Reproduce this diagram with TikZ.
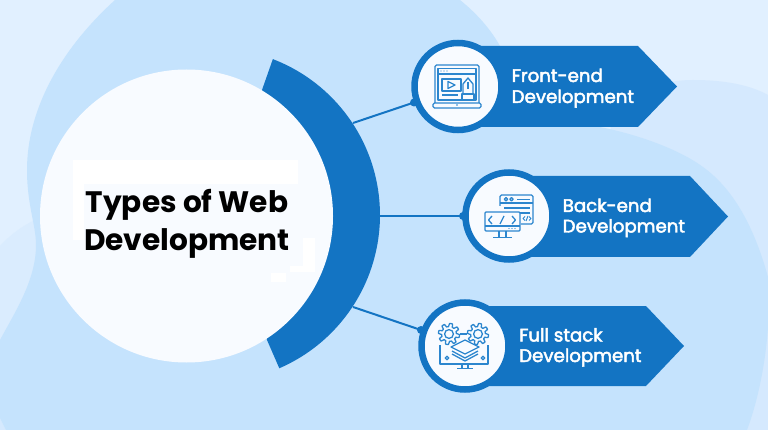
\documentclass[tikz,border=0pt]{standalone}
\usepackage{fontspec}
\setmainfont{Poppins}
\definecolor{bgtop}{HTML}{E1F0FF}
\definecolor{bgmid}{HTML}{D5E9FE}
\definecolor{bgside}{HTML}{DAECFE}
\definecolor{bgmain}{HTML}{C5E3FD}
\definecolor{brand}{HTML}{1374C3}
\definecolor{iconc}{HTML}{2C86CE}
\definecolor{disc}{HTML}{F8FBFF}
\newfontfamily\labfont[FakeBold=2.6]{Poppins}
\tikzset{
  ring/.style={circle,draw=brand,line width=6.5pt,fill=disc,minimum size=87pt,inner sep=0pt},
  knob/.style={circle,fill=brand,minimum size=8pt,inner sep=0pt},
  chip/.style={fill=brand,draw=none},
  link/.style={draw=brand,line width=2pt},
  lab/.style={text=white,anchor=base west,inner sep=0pt,font=\labfont\fontsize{18.2pt}{20pt}\selectfont},
  head/.style={text=black,anchor=base,inner sep=0pt,font=\fontsize{29.6pt}{32pt}\selectfont\bfseries},
  ico/.style={draw=iconc,line width=1.3pt,line join=round},
}
\newcommand{\mygear}[2]{%
  \draw[ico,fill=disc] plot[domain=0:360,samples=97] ({#1+(9+1.6*sign(sin(8*\x)))*cos(\x)},{#2+(9+1.6*sign(sin(8*\x)))*sin(\x)}) -- cycle;
  \draw[ico] (#1,#2) circle[radius=4.4];
}
\begin{document}
\begin{tikzpicture}[x=1pt,y=-1pt]
\useasboundingbox (0,0) rectangle (768,430);
\begin{scope}
\clip (0,0) rectangle (768,430);
\fill[bgtop] (0,0) rectangle (768,430);
% lighter lobes
\fill[bgside] (0,246) .. controls (10,235) and (22,226) .. (35,220) -- (40,300) -- (0,345) -- cycle;
\fill[bgmid] (610,120) .. controls (630,92) and (660,80) .. (693,80) .. controls (725,80) and (750,85) .. (768,95) -- (768,430) -- (640,430) -- cycle;
\fill[bgmid] (0,418) -- (6,430) -- (0,430) -- cycle;
% main blob
\fill[bgmain] (115,0) .. controls (60,50) and (27,110) .. (27,170)
  .. controls (27,205) and (36,225) .. (36,245)
  .. controls (36,280) and (15,312) .. (0,340)
  -- (0,418) -- (6,430) -- (747,430)
  .. controls (762,390) and (772,330) .. (768,277)
  .. controls (755,230) and (735,190) .. (703,167)
  .. controls (680,150) and (640,135) .. (600,127)
  .. controls (560,115) and (520,80) .. (500,46)
  .. controls (490,28) and (475,12) .. (460,0) -- cycle;
\end{scope}
% main arc band and disc
\coordinate (a1) at (353,123);
\coordinate (a2) at (378,216);
\coordinate (a3) at (353,307);
\fill[brand] plot[domain=-69:66.6,samples=80] ({213+167*cos(\x)},{215+167*sin(\x)}) -- (267,340) -- (262,90) -- cycle;
\node[circle,fill=disc,minimum size=293pt,inner sep=0pt] (hub) at (186.5,216) {};
% faint white patches of the picture
\fill[white] (73,160) -- (298,160) -- (298,184) -- (84,184) -- (84,240) -- (73,240) -- cycle;
\fill[white] (303,238) -- (315,238) -- (315,272) -- (290,272) -- (290,266) -- (303,266) -- cycle;
\fill[white] (271,273) rectangle (286,282);
\node[head] (title1) at (187,213) {Types of Web};
\node[head] (title2) at (187,251) {Development};
% chips
\fill[chip] (458,46) -- (638,46) -- (677,86.5) -- (638,127) -- (458,127) -- cycle;
\fill[chip] (509,176) -- (690,176) -- (728,216.5) -- (690,257) -- (509,257) -- cycle;
\fill[chip] (465,306) -- (646,306) -- (684,346) -- (646,386) -- (465,386) -- cycle;
\node[knob] (k1) at (414,102.5) {};
\node[knob] (k2) at (463,216) {};
\node[knob] (k3) at (421,330) {};
\draw[link] (a1) -- (k1.center);
\draw[link] (a2) -- (k2.center);
\draw[link] (a3) -- (k3.center);
\node[ring] (c1) at (458,86.5) {};
\node[ring] (c2) at (509,216) {};
\node[ring] (c3) at (465,346) {};
\node[lab] (l1a) at (511.5,82) {Front-end};
\node[lab] (l1b) at (511.5,103) {Development};
\node[lab] (l2a) at (562.5,212) {Back-end};
\node[lab] (l2b) at (562.5,232.5) {Development};
\node[lab] (l3a) at (519,341.5) {Full stack};
\node[lab] (l3b) at (519,362) {Development};
% icon 1: laptop
\draw[ico,rounded corners=1.5pt] (435,103) -- (435,65) -- (479,65) -- (479,103);
\draw[ico,rounded corners=1.5pt] (433,103) rectangle (481,108);
\draw[ico] (438,68.5) rectangle (476,100);
\draw[ico] (438,74) -- (476,74);
\foreach \px in {441,444,447} \fill[iconc] (\px,71) circle[radius=.7];
\draw[ico] (442,79) rectangle (461,91);
\draw[ico] (448,81.5) -- (455,85) -- (448,88.5) -- cycle;
\draw[ico] (442,95) -- (458,95);
\draw[ico,fill=disc] (463,94) -- (463,84) -- (468,78) -- (473,84) -- (473,94) -- cycle;
\draw[ico] (468,82) -- (468,89);
\draw[ico,fill=disc] (462,94) rectangle (474,100);
\fill[iconc] (457,105) circle[radius=.8];
% icon 2: windows
\draw[ico,rounded corners=1.5pt] (500,206) -- (500,195) -- (533,195) -- (533,224) -- (521,224);
\draw[ico] (500,203) -- (533,203);
\draw[ico] (506,199.2) circle[radius=1.7];
\draw[ico] (511.5,199.2) circle[radius=1.7];
\draw[ico] (517,199.5) -- (530,199.5);
\draw[ico] (504,208) -- (530,208);
\draw[ico] (512,213) -- (530,213);
\draw[ico,line width=1pt] (525,216.5) -- (523,218.5) -- (525,220.5);
\draw[ico,line width=1pt] (529,216.5) -- (531,218.5) -- (529,220.5);
\draw[ico,line width=1pt] (526,221) -- (528,216);
\draw[ico,rounded corners=1pt,fill=disc] (485,212) rectangle (520,231);
\draw[ico] (485,226) -- (520,226);
\draw[ico] (492,216) -- (488.5,220) -- (492,224);
\draw[ico] (512,216) -- (515.5,220) -- (512,224);
\draw[ico] (500,224) -- (504,216);
\foreach \px in {509,512,515} \fill[iconc] (\px,228.5) circle[radius=.7];
\draw[ico] (499,231) -- (499,237);
\draw[ico] (506,231) -- (506,237);
\draw[ico] (493,237.5) -- (512,237.5);
% icon 3: gears, stack, monitor
\mygear{449}{334}
\mygear{478}{334}
\draw[ico] (460,334) -- (467,334);
\draw[ico] (440,345) -- (440,364) -- (488,364) -- (488,345);
\draw[ico] (462,364) -- (462,368);
\draw[ico] (468,364) -- (468,368);
\draw[ico] (457,368.5) -- (473,368.5);
\draw[ico] (447,358) circle[radius=1.8];
\draw[ico] (483,358) circle[radius=1.8];
\draw[ico] (452,354) -- (465,361) -- (478,354);
\draw[ico] (452,351) -- (465,358) -- (478,351);
\draw[ico,fill=disc] (451,347) -- (465,340) -- (479,347) -- (465,354) -- cycle;
\end{tikzpicture}
\end{document}
